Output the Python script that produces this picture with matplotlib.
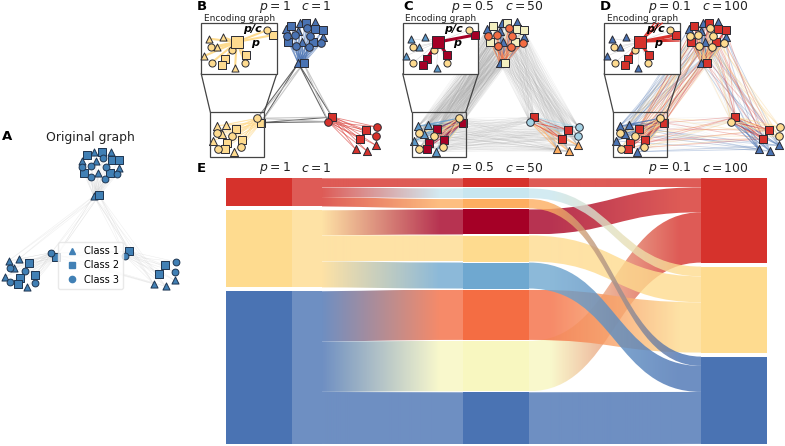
import numpy as np
import matplotlib
matplotlib.use("Agg")
import matplotlib.pyplot as plt
from matplotlib.collections import LineCollection
from matplotlib.lines import Line2D
from matplotlib.patches import PathPatch, Rectangle
from matplotlib.path import Path

# couleurs
RED = "#d6322c"
YEL = "#fedb8f"
BLU = "#4a73b3"
DRED = "#a50026"
ORED = "#f46d43"
ORA = "#fdae61"
LBLU = "#c8e6ef"
MBLU = "#6fa8d0"
PALE = "#f8f7c0"
STEEL = "#4180b5"

# sankey : hauteurs des noeuds et flux
stage1_colors = [RED, YEL, BLU]
stage2_colors = [RED, LBLU, ORA, DRED, YEL, MBLU, ORED, PALE, BLU]
stage3_colors = [RED, YEL, BLU]
h1 = [28.0, 77.0, 152.6]
h2 = [9.0, 9.7, 9.3, 25.0, 26.0, 26.0, 50.3, 50.3, 52.0]
h3 = [84.3, 86.0, 87.3]
flows_left = [(0, 0, 9.0), (0, 1, 9.7), (0, 2, 9.3),
              (1, 3, 25.0), (1, 4, 26.0), (1, 5, 26.0),
              (2, 6, 50.3), (2, 7, 50.3), (2, 8, 52.0)]
flows_right = [(0, 0, 9.0), (3, 0, 25.0), (7, 0, 50.3),
               (1, 1, 9.7), (4, 1, 26.0), (6, 1, 50.3),
               (2, 2, 9.3), (5, 2, 26.0), (8, 2, 52.0)]

# graphe original (A), le noeud pont est en premier
a_top_tri = [(93.7, 196), (93.7, 152.3), (111, 152.3), (81.7, 160.7), (96, 161.3), (119, 167.7), (98.3, 173.3)]
a_top_sq = [(99.3, 195.3), (87, 155.3), (102, 152.3), (112.3, 160), (119.3, 160), (83.7, 173.3), (110, 173.3)]
a_top_cir = [(103.3, 158.3), (90.7, 166), (82, 166.7), (106, 166.7), (117.3, 174.3), (91.3, 177.3), (105.3, 178.7)]
a_left_tri = [(8.7, 260.7), (18.7, 259), (14, 268.3), (4.7, 276.7), (27.3, 287.3)]
a_left_sq = [(55.7, 257.3), (28.7, 263.3), (35.3, 275.3), (20, 278.3), (17.7, 284)]
a_left_cir = [(51.3, 252.7), (10, 268), (25.3, 270.7), (10, 282.3), (34.7, 282.7)]
a_right_tri = [(153.7, 284), (165.7, 286.3), (174.7, 280.3)]
a_right_sq = [(129.3, 251.3), (164.7, 265.3), (158.7, 274)]
a_right_cir = [(125, 256), (175.7, 261.7), (174.7, 271.7)]

# graphe encode (B, C et D ont la meme disposition)
top_tri = [(298.3, 63.3), (300, 22.7), (315, 22), (285.7, 29.3), (298.3, 30.7), (322.7, 36.7), (301.7, 41.7)]
top_sq = [(303.7, 63.3), (291.3, 25.7), (305.7, 22.7), (315.3, 29.3), (322.7, 30), (288.3, 42.3), (313.3, 42.3)]
top_cir = [(307.3, 28.3), (295, 35.3), (286.7, 36), (310, 36), (321, 43.3), (296, 46), (309.3, 46.7)]
left_tri = [(216.7, 126), (226, 124.7), (222, 133.7), (212.7, 141), (234, 151.7)]
left_sq = [(261, 122.7), (235.7, 128.7), (242, 140), (227.3, 143.3), (225, 148.7)]
left_cir = [(257.3, 118.3), (217.3, 133.3), (232.3, 135.7), (217.7, 148.7), (241.3, 147.3)]
right_tri = [(355.7, 149.3), (367.3, 151.3), (376, 145.3)]
right_sq = [(332.3, 117), (366.3, 130.3), (360.3, 139)]
right_cir = [(328.3, 121.7), (377, 127), (376, 136.3)]

inset_hub = (236.7, 42)
inset_tri = [(209.3, 38.7), (223.3, 37.3), (217.3, 47.3), (204.3, 56), (235, 68.3)]
inset_sq = [(245.7, 55), (225, 59), (221.7, 64.7), (273.3, 35)]
inset_cir = [(267.3, 30), (211.3, 47), (232.3, 50), (211.7, 62.7), (245, 63)]

panel_shift = [0, 201.5, 403]
panel_letters = ["B", "C", "D"]
title_p = ["$p=1$", "$p=0.5$", "$p=0.1$"]
title_c = ["$c=1$", "$c=50$", "$c=100$"]
title_p_x = [259, 451, 648]
title_c_x = [301, 505, 702]

# couleurs par panneau : (tri, sq, cir) pour chaque groupe
colors_top = [(BLU, BLU, BLU), (BLU, "#f3efc0", ORED), (BLU, RED, YEL)]
colors_left = [(YEL, YEL, YEL), ("#5b98c8", DRED, YEL), (BLU, RED, YEL)]
colors_right = [(RED, RED, RED), (ORA, RED, "#a5d3e5"), (BLU, RED, YEL)]
inset_colors = [(YEL, YEL, YEL), ("#5b98c8", DRED, YEL), (BLU, RED, YEL)]

fig = plt.figure(figsize=(7.85, 4.46), dpi=100)
ax = fig.add_axes([0, 0, 1, 1])
ax.set_axis_off()


def shifted(pts, dx):
    return [(x + dx, y) for x, y in pts]


def fan(hubs, pts):
    return [(h, p) for h in hubs for p in pts if h != p]


def edges(segs, color, lw, alpha, z):
    ax.add_collection(LineCollection(segs, colors=color, linewidths=lw, alpha=alpha, zorder=z))


def nodes(pts, marker, color, z, s, edge="#2b2b33"):
    xy = np.array(pts)
    ax.scatter(xy[:, 0], xy[:, 1], marker=marker, s=s, c=color, edgecolors=edge, linewidths=0.7, zorder=z)


def stack(values, gap, top=178.3):
    y = top
    out = []
    for v in values:
        out.append((y, y + v))
        y += v + gap
    return out


stage1 = stack(h1, 4)
stage2 = stack(h2, 1.05)
stage3 = stack(h3, 4)

for stage, cols, x0, x1 in [(stage1, stage1_colors, 226, 292), (stage2, stage2_colors, 463, 529), (stage3, stage3_colors, 701, 767)]:
    for (y0, y1), c in zip(stage, cols):
        ax.add_patch(Rectangle((x0, y0), x1 - x0, y1 - y0, facecolor=c, edgecolor="none", zorder=2))


def flow(x0, x1, s0, t0, v, c0, c1, g0, g1, hide_before=None):
    # ruban avec un bord en courbe de bezier et degrade de couleur
    xm = (x0 + x1) / 2
    verts = [(x0, s0), (xm, s0), (xm, t0), (x1, t0), (x1, t0 + v), (xm, t0 + v), (xm, s0 + v), (x0, s0 + v), (x0, s0)]
    codes = [Path.MOVETO, Path.CURVE4, Path.CURVE4, Path.CURVE4, Path.LINETO, Path.CURVE4, Path.CURVE4, Path.CURVE4, Path.CLOSEPOLY]
    patch = PathPatch(Path(verts, codes), facecolor="none", edgecolor="none")
    ax.add_patch(patch)
    xs = np.linspace(x0, x1, 512)
    t = np.clip((xs - g0) / (g1 - g0), 0, 1)[None, :, None]
    rgba = np.ones((1, 512, 4))
    rgba[:, :, :3] = (1 - t) * np.array(matplotlib.colors.to_rgb(c0)) + t * np.array(matplotlib.colors.to_rgb(c1))
    rgba[:, :, 3] = 0.8
    if hide_before is not None:
        rgba[:, xs < hide_before, 3] = 0
    ymin = min(s0, t0)
    ymax = max(s0, t0) + v
    im = ax.imshow(rgba, extent=[x0, x1, ymax, ymin], aspect="auto", interpolation="nearest", zorder=3)
    im.set_clip_path(patch)


# le debut des flux de gauche est un seul bloc clair
for (y0, y1), c in zip(stage1, stage1_colors):
    ax.add_patch(Rectangle((292, y0), 30, y1 - y0, facecolor=c, alpha=0.8, edgecolor="none", zorder=3))

used = [0, 0, 0]
for s, t, v in flows_left:
    flow(292, 463, stage1[s][0] + used[s], stage2[t][0], v, stage1_colors[s], stage2_colors[t], 322, 440, hide_before=322)
    used[s] += v
used = [0, 0, 0]
for s, t, v in flows_right:
    flow(529, 701, stage2[s][0], stage3[t][0] + used[t], v, stage2_colors[s], stage3_colors[t], 550, 680)
    used[t] += v

# panneau A
grey = "#d4d4d4"
groups_a = [(a_top_tri, a_top_sq, a_top_cir), (a_left_tri, a_left_sq, a_left_cir), (a_right_tri, a_right_sq, a_right_cir)]
hubs_a = [[a_top_tri[0], a_top_sq[0]], [a_left_sq[0], a_left_cir[0]], [a_right_sq[0], a_right_cir[0]]]
for g, hubs in zip(groups_a, hubs_a):
    edges(fan(hubs, g[0] + g[1] + g[2]), grey, 0.35, 0.45, 1)
for i, j in [(0, 1), (0, 2), (1, 2)]:
    edges(fan(hubs_a[i], hubs_a[j]) + fan(hubs_a[i], groups_a[j][0][:2] + groups_a[j][1][:1]), grey, 0.35, 0.4, 1)
for g in groups_a:
    nodes(g[0], "^", STEEL, 5, 26, "#1f3550")
    nodes(g[1], "s", STEEL, 5, 26, "#1f3550")
    nodes(g[2], "o", STEEL, 5, 24, "#1f3550")

handles = [Line2D([], [], marker=m, color=STEEL, linestyle="none", markersize=4.5) for m in ["^", "s", "o"]]
leg = ax.legend(handles, ["Class 1", "Class 2", "Class 3"], loc="center", bbox_to_anchor=(90.5, 265.5),
                bbox_transform=ax.transData, fontsize=7, handletextpad=0.2, labelspacing=0.45, borderpad=0.45, edgecolor="#e4e4e4")
leg.set_zorder(6)
ax.text(90.5, 137, "Original graph", ha="center", va="center", fontsize=8.9, color="#222222")
ax.text(2, 137, "A", ha="left", va="center", fontsize=9.5, fontweight="bold")

# panneaux B, C, D
for k in range(3):
    dx = panel_shift[k]
    tops = [shifted(p, dx) for p in (top_tri, top_sq, top_cir)]
    lefts = [shifted(p, dx) for p in (left_tri, left_sq, left_cir)]
    rights = [shifted(p, dx) for p in (right_tri, right_sq, right_cir)]
    clusters = [tops, lefts, rights]
    hubs = [[tops[0][0], tops[1][0]], [lefts[1][0], lefts[2][0]], [rights[1][0], rights[2][0]]]
    palettes = [colors_top[k], colors_left[k], colors_right[k]]

    # aretes dans les groupes
    for cl, hb, pal in zip(clusters, hubs, palettes):
        for pts, c in zip(cl, pal):
            edges(fan(hb, pts), c, 0.6 if k == 0 else 0.8, 0.6, 1.5)

    # aretes entre les groupes
    if k == 0:
        for i, j in [(0, 1), (0, 2), (1, 2)]:
            edges(fan(hubs[i][:1], hubs[j]), "#444444", 0.8, 0.8, 1.4)
            edges(fan(hubs[i][1:], hubs[j]), "#bbbbbb", 0.8, 0.8, 1.4)
    else:
        for i, j in [(0, 1), (0, 2), (1, 2)]:
            for si in range(3):
                for sj in range(3):
                    segs = []
                    for a, pa in enumerate(clusters[i][si]):
                        for b, pb in enumerate(clusters[j][sj]):
                            if k == 1 or (a + b) % 2 == 0:
                                segs.append((pa, pb))
                    if k == 1:
                        edges(segs, "#a8a8a8", 0.28, 0.2, 1.2)
                    elif si == sj:
                        edges(segs, [BLU, RED, "#f7c66d"][si], 0.6, 0.3, 1.2)
                    else:
                        edges(segs[::3], "#c4c4c4", 0.3, 0.22, 1.1)

    for cl, pal in zip(clusters, palettes):
        nodes(cl[0], "^", pal[0], 5, 34)
        nodes(cl[1], "s", pal[1], 5, 32)
        nodes(cl[2], "o", pal[2], 5, 30)

    # boite du zoom et encart
    ax.add_patch(Rectangle((210.3 + dx, 112), 54, 44.7, facecolor="none", edgecolor="#444444", linewidth=0.9, zorder=6))
    ax.plot([201.3 + dx, 210.3 + dx], [74, 112], color="#444444", lw=0.9, zorder=6)
    ax.plot([276.7 + dx, 264.3 + dx], [74, 112], color="#444444", lw=0.9, zorder=6)
    box = Rectangle((201.3 + dx, 22.7), 75.4, 51.3, facecolor="white", edgecolor="#444444", linewidth=0.9, zorder=7)
    ax.add_patch(box)

    hub = shifted([inset_hub], dx)[0]
    itri = shifted(inset_tri, dx)
    isq = shifted(inset_sq, dx)
    icir = shifted(inset_cir, dx)
    pal = inset_colors[k]
    if k == 0:
        ax.add_collection(LineCollection(fan([hub], itri + isq + icir), colors=YEL, linewidths=1.5, zorder=7.2))
    else:
        ax.add_collection(LineCollection(fan([hub], itri + icir), colors="#d8d8d8", linewidths=0.4, zorder=7.2))
        ax.add_collection(LineCollection(fan([hub], isq), colors=pal[1], linewidths=2.2, zorder=7.2))
    if k == 2:
        out = [(hub, (hub[0] + 15 + i * 4, 22.7)) for i in range(3)] + [(hub, (276.7 + dx, 38 + i * 1.5)) for i in range(3)]
        ax.add_collection(LineCollection(out + [(hub, icir[2])], colors=RED, linewidths=0.9, zorder=7.2))
    nodes(itri, "^", pal[0], 7.5, 26)
    nodes(isq, "s", pal[1], 7.5, 26)
    nodes(icir, "o", pal[2], 7.5, 26)
    nodes([hub], "s", pal[1], 7.6, 66)
    ax.text(hub[0] + 15.5, 29, "p/c", fontsize=8, fontweight="bold", fontstyle="italic", ha="center", va="center", zorder=8)
    ax.text(hub[0] + 18.5, 43, "p", fontsize=8, fontweight="bold", fontstyle="italic", ha="center", va="center", zorder=8)
    ax.text(239.3 + dx, 18.2, "Encoding graph", fontsize=6.5, ha="center", va="center", color="#222222", zorder=8)

    ax.text(title_p_x[k], 7, title_p[k], fontsize=8.9, ha="left", va="center", color="#222222")
    ax.text(title_c_x[k], 7, title_c[k], fontsize=8.9, ha="left", va="center", color="#222222")
    ax.text(197 + (0 if k == 0 else (206 if k == 1 else 403)), 7, panel_letters[k], fontsize=9.5, fontweight="bold", ha="left", va="center")
    ax.text(title_p_x[k], 168, title_p[k], fontsize=8.9, ha="left", va="center", color="#222222")
    ax.text(title_c_x[k], 168, title_c[k], fontsize=8.9, ha="left", va="center", color="#222222")

ax.text(197, 168, "E", fontsize=9.5, fontweight="bold", ha="left", va="center")

ax.set_xlim(0, 785)
ax.set_ylim(446, 0)
fig.savefig("out.png", dpi=100)
